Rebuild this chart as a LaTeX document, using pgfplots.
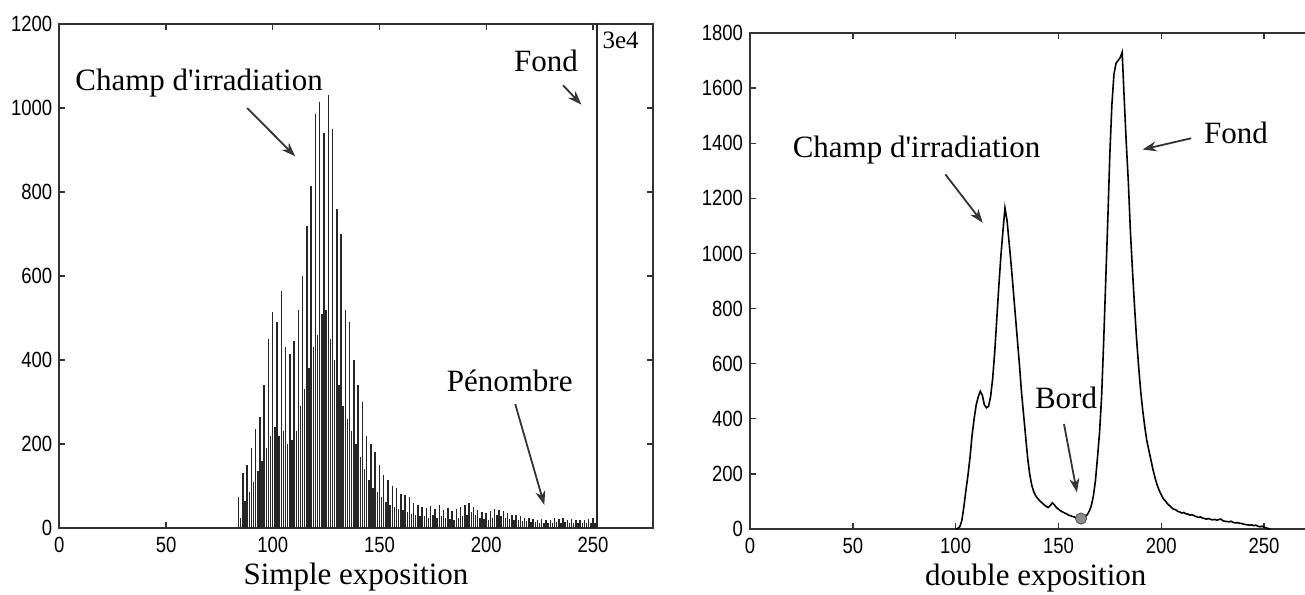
\documentclass[border=0pt]{standalone}
\usepackage{fontspec}
\setmainfont{Liberation Serif}
\newfontfamily\tickfont[FakeStretch=0.84]{Liberation Sans}
\usepackage{pgfplots}
\pgfplotsset{compat=1.18}
\usetikzlibrary{arrows.meta}
\usepackage{pgfplotstable}

\pgfplotstableread{
x y
84 75
85 25
86 130
87 65
88 150
89 85
90 190
91 110
92 235
93 135
94 265
95 160
96 340
97 190
98 450
99 220
100 515
101 240
102 490
103 220
104 565
105 230
106 430
107 200
108 415
109 210
110 445
111 230
112 520
113 290
114 600
115 330
116 720
117 380
118 815
119 430
120 985
121 460
122 1015
123 510
124 940
125 520
126 1030
127 450
128 950
129 400
130 760
131 340
132 700
133 290
134 520
135 260
136 490
137 230
138 400
139 200
140 340
141 170
142 300
143 140
144 220
145 115
146 200
147 95
148 180
149 85
150 150
151 75
152 125
153 62
154 115
155 55
156 100
157 50
158 95
159 45
160 80
161 42
162 78
163 38
164 75
165 34
166 60
167 30
168 55
169 28
170 50
171 28
172 48
173 25
174 52
175 30
176 45
177 24
178 55
179 28
180 42
181 25
182 48
183 22
184 40
185 20
186 45
187 25
188 50
189 28
190 55
191 32
192 60
193 38
194 50
195 30
196 42
197 25
198 38
199 22
200 35
201 20
202 40
203 25
204 45
205 30
206 42
207 28
208 40
209 24
210 35
211 22
212 32
213 20
214 30
215 18
216 28
217 17
218 25
219 16
220 24
221 14
222 22
223 14
224 20
225 12
226 22
227 13
228 18
229 12
230 20
231 13
232 25
233 15
234 22
235 13
236 25
237 15
238 20
239 13
240 22
241 12
242 18
243 12
244 20
245 13
246 18
247 12
248 22
249 13
250 25
251 12
252 30000
}\simpletable

\pgfplotstableread{
x y
100 0
101 2
102 8
103 30
104 80
105 140
106 195
107 260
108 340
109 400
110 450
111 480
112 500
113 485
114 450
115 440
116 445
117 480
118 545
119 640
120 760
121 880
122 990
123 1080
124 1165
125 1120
126 1040
127 960
128 870
129 780
130 690
131 600
132 500
133 420
134 340
135 260
136 200
137 160
138 135
139 120
140 110
141 102
142 95
143 88
144 82
145 78
146 85
147 95
148 88
149 78
150 72
151 66
152 62
153 58
154 55
155 50
156 48
157 45
158 43
159 40
160 38
161 36
162 40
163 45
164 52
165 65
166 85
167 120
168 175
169 260
170 350
171 480
172 680
173 900
174 1120
175 1360
176 1540
177 1650
178 1690
179 1700
180 1710
181 1730
182 1560
183 1400
184 1260
185 1080
186 940
187 810
188 690
189 590
190 500
191 430
192 370
193 320
194 285
195 250
196 215
197 185
198 160
199 140
200 125
201 110
202 102
203 92
204 85
205 78
206 72
207 70
208 64
209 62
210 58
211 60
212 55
213 54
214 50
215 52
216 48
217 45
218 42
219 44
220 40
221 38
222 36
223 38
224 35
225 33
226 35
227 32
228 34
229 36
230 30
231 28
232 27
233 26
234 28
235 24
236 22
237 23
238 21
239 20
240 18
241 16
242 15
243 14
244 15
245 12
246 14
247 10
248 8
249 10
250 6
251 4
252 2
253 0
}\doubletable

\pgfplotsset{
  matlab/.style={
    scale only axis, anchor=south west,
    xmin=0, xmax=278, ymin=0,
    xtick={0,50,...,250},
    tick align=inside, tick pos=both,
    major tick length=3pt,
    axis line style={black!80, line width=0.8pt},
    tick style={black!80, line width=0.7pt},
    tick label style={font=\fontsize{11}{11}\tickfont},
    xticklabel style={yshift=-1pt},
    /pgf/number format/assume math mode=true,
    /pgf/number format/1000 sep={},
    scaled ticks=false,
    xlabel style={at={(rel axis cs:0.5,0)}, anchor=center, yshift=-24.5pt,
      font=\fontsize{15.5}{15.5}\selectfont},
  },
}
\tikzset{
  lab/.style={font=\fontsize{15.5}{15.5}\selectfont, inner sep=0pt},
  arr/.style={black!80, line width=0.9pt, -{Stealth[length=7pt,width=5pt,fill=black!55]}},
}

\begin{document}
\begin{tikzpicture}[x=1pt,y=1pt]
\useasboundingbox (0,0) rectangle (652.5,297);
\begin{axis}[matlab,
  at={(29.65pt,33pt)}, width=296.7pt, height=252pt,
  ymax=1200, ytick={0,200,...,1200},
  xlabel={Simple exposition}]
\addplot[ycomb, black!85, line width=0.72pt, mark=none] table[x=x,y=y] {\simpletable};
\node[lab] at (axis cs:65.5,1060) {Champ d\textquotesingle irradiation};
\draw[arr] (axis cs:88,1000) -- (axis cs:110.5,885);
\node[lab] at (axis cs:228,1112) {Fond};
\draw[arr] (axis cs:236,1054) -- (axis cs:244.6,1008);
\node[font=\fontsize{12.5}{12.5}\selectfont, inner sep=0pt] at (axis cs:263,1160) {3e4};
\node[lab] at (axis cs:211,350) {Pénombre};
\draw[arr] (axis cs:213.6,295) -- (axis cs:227.2,55);
\end{axis}
\begin{axis}[matlab,
  at={(375pt,32.5pt)}, width=285.8pt, height=248pt,
  ymax=1800, ytick={0,200,...,1800},
  xlabel={double exposition}]
\addplot[black, line width=0.8pt, mark=none] table[x=x,y=y] {\doubletable};
\addplot[only marks, mark=*, mark size=2.8pt, mark options={fill=black!45, draw=black!70}] coordinates {(161,38)};
\node[lab] at (axis cs:81,1376) {Champ d\textquotesingle irradiation};
\draw[arr] (axis cs:95,1287) -- (axis cs:113.2,1111);
\node[lab] at (axis cs:236.4,1438) {Fond};
\draw[arr] (axis cs:214.6,1418) -- (axis cs:190.9,1377);
\node[lab] at (axis cs:153.7,476) {Bord};
\draw[arr] (axis cs:152.7,381) -- (axis cs:159,133);
\end{axis}
\end{tikzpicture}
\end{document}
